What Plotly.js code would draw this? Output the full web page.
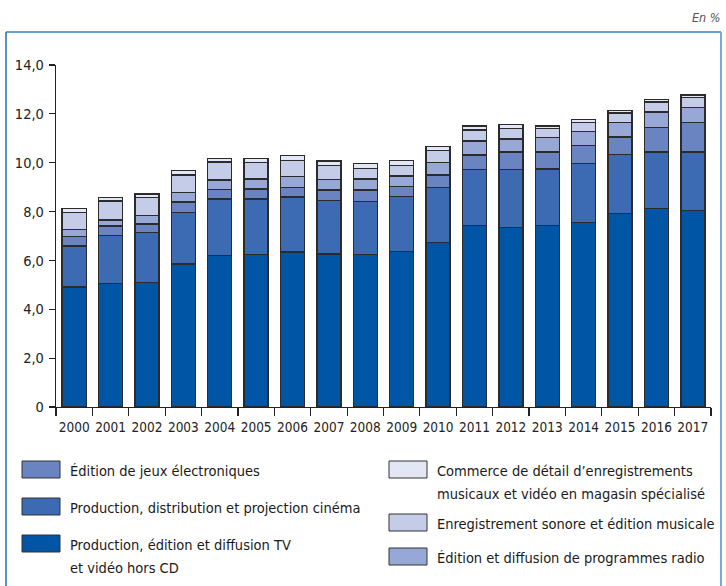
<!DOCTYPE html>
<html>
<head>
<meta charset="utf-8">
<script src="https://cdn.plot.ly/plotly-3.0.1.min.js"></script>
<style>
html,body{margin:0;padding:0;background:#fff;}
#chart{width:726px;height:586px;}
</style>
</head>
<body>
<div id="chart"></div>
<script>
// ---- Data ----
var years = ["2000","2001","2002","2003","2004","2005","2006","2007","2008","2009","2010","2011","2012","2013","2014","2015","2016","2017"];
var tv       = [4.92, 5.06, 5.09, 5.85, 6.19, 6.25, 6.34, 6.26, 6.25, 6.37, 6.73, 7.42, 7.34, 7.42, 7.56, 7.91, 8.13, 8.04];
var cinema   = [1.67, 1.97, 2.05, 2.12, 2.32, 2.26, 2.26, 2.20, 2.17, 2.24, 2.26, 2.31, 2.39, 2.33, 2.42, 2.42, 2.31, 2.40];
var jeux     = [0.38, 0.38, 0.35, 0.43, 0.39, 0.41, 0.39, 0.43, 0.47, 0.41, 0.51, 0.59, 0.71, 0.69, 0.73, 0.72, 0.99, 1.20];
var radio    = [0.30, 0.24, 0.34, 0.37, 0.39, 0.41, 0.44, 0.43, 0.44, 0.44, 0.52, 0.57, 0.53, 0.60, 0.56, 0.59, 0.65, 0.63];
var sonore   = [0.70, 0.78, 0.75, 0.73, 0.74, 0.69, 0.65, 0.57, 0.44, 0.43, 0.47, 0.45, 0.42, 0.35, 0.38, 0.39, 0.40, 0.39];
var commerce = [0.16, 0.14, 0.14, 0.19, 0.15, 0.16, 0.22, 0.18, 0.21, 0.19, 0.17, 0.17, 0.18, 0.11, 0.13, 0.11, 0.12, 0.11];

var seriesNames = [
  "Production, édition et diffusion TV\net vidéo hors CD",
  "Production, distribution et projection cinéma",
  "Édition de jeux électroniques",
  "Édition et diffusion de programmes radio",
  "Enregistrement sonore et édition musicale",
  "Commerce de détail d’enregistrements\nmusicaux et vidéo en magasin spécialisé"
];
var seriesValues = [tv, cinema, jeux, radio, sonore, commerce];
var seriesColors = ["#0055a4", "#3d6bb3", "#6a84c2", "#97a7d6", "#c5cce8", "#e3e6f4"];

var yTickVals = [0, 2, 4, 6, 8, 10, 12, 14];
var yTickText = ["0", "2,0", "4,0", "6,0", "8,0", "10,0", "12,0", "14,0"];
var unitLabel = "En %";

// ---- Layout geometry ----
var W = 726, H = 586;
var M = {l: 56, r: 15, t: 65, b: 179};
var PW = W - M.l - M.r, PH = H - M.t - M.b;
function px(x){ return (x - M.l) / PW; }
function py(y){ return (H - M.b - y) / PH; }

var FONT = "DejaVu Sans Condensed, DejaVu Sans, sans-serif";

var traces = seriesValues.map(function(v, i){
  return {
    type: "bar",
    x: years,
    y: v,
    name: seriesNames[i].replace("\n", " "),
    marker: {color: seriesColors[i], line: {color: "#2b2b2b", width: 1.4}},
    showlegend: false,
    hoverinfo: "skip"
  };
});

// Manual two-column legend, ordered as in the reference
var legendSlots = [
  {s: 2, x: 22, y: 461},
  {s: 1, x: 22, y: 498},
  {s: 0, x: 22, y: 535},
  {s: 5, x: 389, y: 461},
  {s: 4, x: 389, y: 514},
  {s: 3, x: 389, y: 548}
];
var shapes = [];
var annotations = [];
legendSlots.forEach(function(slot){
  shapes.push({
    type: "rect", xref: "paper", yref: "paper",
    x0: px(slot.x), x1: px(slot.x + 38),
    y0: py(slot.y), y1: py(slot.y + 17),
    fillcolor: seriesColors[slot.s],
    line: {color: "#333", width: 1}
  });
  var lines = seriesNames[slot.s].split("\n");
  lines.forEach(function(t, k){
    annotations.push({
      xref: "paper", yref: "paper",
      x: px(slot.x + 46), y: py(slot.y + 10 + k * 23),
      xanchor: "left", yanchor: "middle",
      text: t, showarrow: false,
      font: {family: FONT, size: 14.5, color: "#1a1a1a"}
    });
  });
});

// Frame
shapes.push({type: "line", xref: "paper", yref: "paper", x0: px(6), x1: px(721), y0: py(32), y1: py(32), line: {color: "#3a7cc8", width: 1.5}});
shapes.push({type: "line", xref: "paper", yref: "paper", x0: px(6), x1: px(6), y0: py(32), y1: py(600), line: {color: "#1f6bbf", width: 1.5}});
shapes.push({type: "line", xref: "paper", yref: "paper", x0: px(721), x1: px(721), y0: py(32), y1: py(600), line: {color: "#7aa8dc", width: 2}});

annotations.push({
  xref: "paper", yref: "paper", x: px(723), y: py(17),
  xanchor: "right", yanchor: "middle", text: unitLabel, showarrow: false,
  font: {family: FONT, size: 12.5, color: "#555", style: "italic"}
});

var layout = {
  width: W, height: H,
  margin: M,
  paper_bgcolor: "#fff", plot_bgcolor: "#fff",
  barmode: "stack",
  bargap: 0.34,
  font: {family: FONT, size: 14, color: "#222"},
  xaxis: {
    type: "category",
    tickangle: 0,
    ticklabelstandoff: 8,
    showline: true, linecolor: "#222", linewidth: 1.2,
    ticks: "outside", tickson: "boundaries", ticklen: 8, tickcolor: "#222", tickwidth: 1.2,
    tickfont: {family: FONT, size: 13.5, color: "#222"},
    showgrid: false, zeroline: false, fixedrange: true
  },
  yaxis: {
    range: [0, 14],
    tickvals: yTickVals, ticktext: yTickText,
    ticklabelstandoff: 2,
    showline: true, linecolor: "#222", linewidth: 1.2,
    ticks: "outside", ticklen: 6, tickcolor: "#222", tickwidth: 1.2,
    tickfont: {family: FONT, size: 14.5, color: "#222"},
    showgrid: false, zeroline: false, fixedrange: true
  },
  shapes: shapes,
  annotations: annotations
};

Plotly.newPlot("chart", traces, layout, {staticPlot: true, displayModeBar: false});
</script>
</body>
</html>
